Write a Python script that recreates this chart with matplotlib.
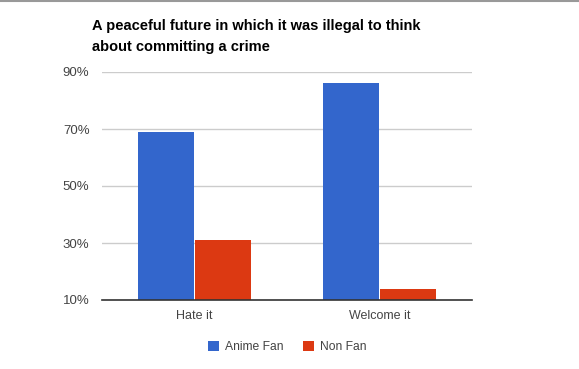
import matplotlib
matplotlib.use("Agg")
import matplotlib.pyplot as plt
import numpy as np
from matplotlib.patches import Patch
from matplotlib.lines import Line2D

categories = ["Hate it", "Welcome it"]
series_names = ["Anime Fan", "Non Fan"]
anime_fan = [69, 86]
non_fan = [31, 14]
y_ticks = [10, 30, 50, 70, 90]
y_tick_labels = ["10%", "30%", "50%", "70%", "90%"]

colors = ["#3366cc", "#dc3912"]

plt.rcParams['font.family'] = ['Liberation Sans', 'DejaVu Sans']

W, H = 579, 369
fig = plt.figure(figsize=(W/100, H/100), dpi=100)
ax = fig.add_axes([102/W, 1-300/H, 370/W, 228/H])

x = np.arange(len(categories))
bw = 0.305
gap = 0.003
ax.bar(x - bw/2 - gap/2, anime_fan, width=bw, color=colors[0], zorder=3)
ax.bar(x + bw/2 + gap/2, non_fan, width=bw, color=colors[1], zorder=3)

ax.set_xlim(-0.5, 1.5)
ax.set_ylim(10, 90)
ax.set_yticks(y_ticks)
ax.set_yticklabels(y_tick_labels)
ax.set_xticks(x)
ax.set_xticklabels(categories)
ax.tick_params(axis='both', length=0, labelcolor='#444444')
ax.tick_params(axis='y', pad=9, labelsize=9.5)
ax.tick_params(axis='x', pad=7, labelsize=9)
ax.grid(axis='y', color='#cccccc', linewidth=1, zorder=0)
for s in ['top', 'right', 'left']:
    ax.spines[s].set_visible(False)
ax.spines['bottom'].set_color('#333333')
ax.spines['bottom'].set_linewidth(1.2)
ax.spines['bottom'].set_zorder(4)

fig.text(92/W, 1-36.5/H, "A peaceful future in which it was illegal to think\nabout committing a crime",
         fontsize=10.5, fontweight='bold', color='#000000', ha='left', va='center',
         linespacing=1.55)

handles = [Patch(facecolor=c, edgecolor='none') for c in colors]
fig.legend(handles, series_names, loc='center', bbox_to_anchor=(287/W, 1-347/H),
           ncol=2, frameon=False, fontsize=8.7, labelcolor='#444444',
           handlelength=0.95, handleheight=0.95, handletextpad=0.45, columnspacing=1.6)

fig.add_artist(Line2D([0, 1], [1-0.5/H, 1-0.5/H], color='#999999', linewidth=1.5,
                      transform=fig.transFigure))

fig.savefig("out.png", dpi=100)
